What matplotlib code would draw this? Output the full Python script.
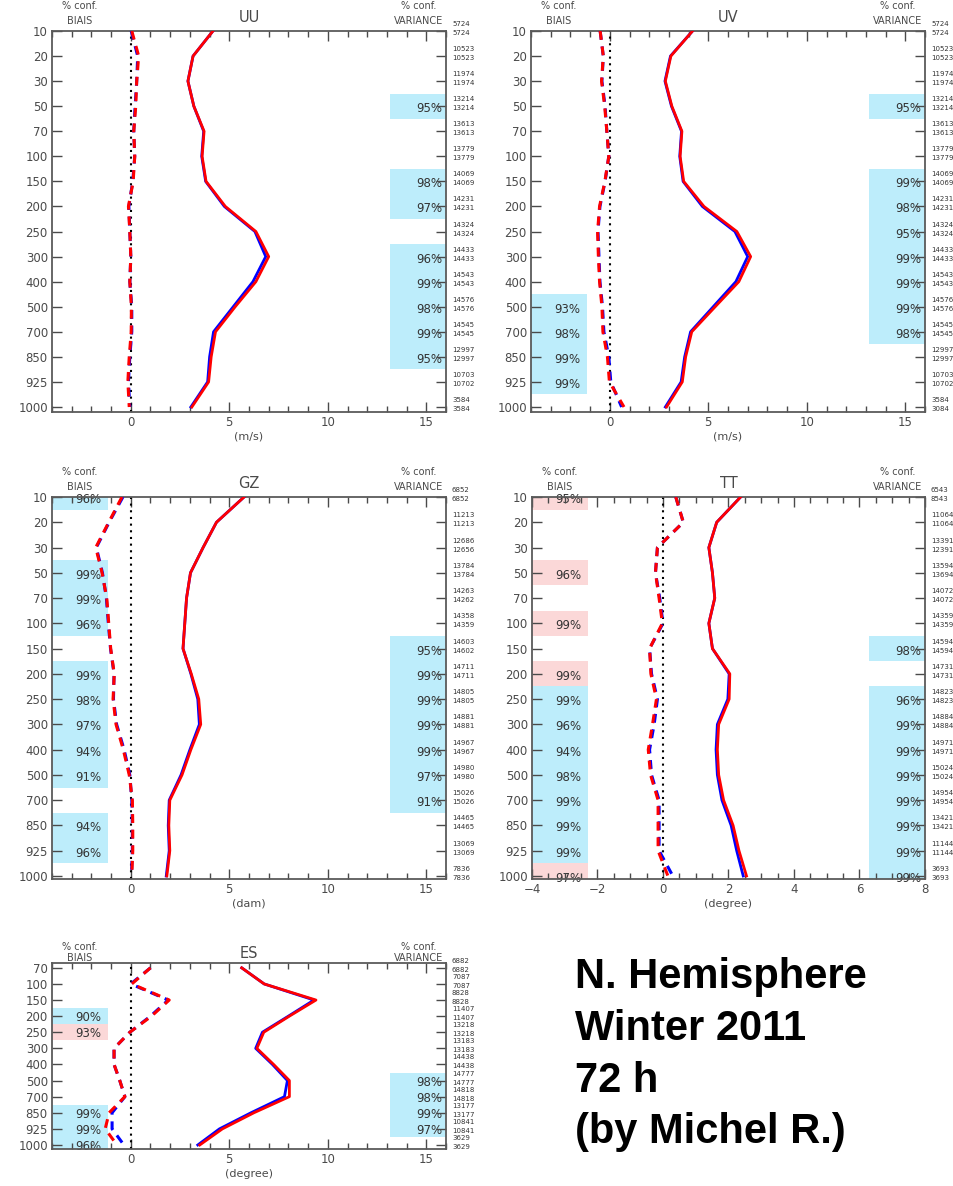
import numpy as np
import matplotlib.pyplot as plt
from matplotlib.patches import Rectangle
from matplotlib.transforms import blended_transform_factory
import matplotlib.ticker as mticker

# ─────────────────────────────────────────────
# Données
# ─────────────────────────────────────────────
NIVEAUX = [10, 20, 30, 50, 70, 100, 150, 200, 250, 300, 400, 500, 700, 850, 925, 1000]
NIVEAUX_ES = [70, 100, 150, 200, 250, 300, 400, 500, 700, 850, 925, 1000]

# UU (m/s)
UU_RMS_BLEU = [4.17, 3.16, 2.90, 3.20, 3.70, 3.60, 3.80, 4.75, 6.30, 6.85, 6.20, 5.20, 4.20, 4.00, 3.90, 3.05]
UU_RMS_ROUGE = [4.17, 3.16, 2.90, 3.20, 3.72, 3.62, 3.82, 4.80, 6.35, 7.00, 6.35, 5.30, 4.30, 4.08, 3.95, 3.10]
UU_BIAIS_BLEU = [0.02, 0.35, 0.30, 0.22, 0.15, 0.20, 0.10, -0.10, -0.05, 0.00, -0.05, 0.05, 0.05, -0.05, -0.12, -0.05]
UU_BIAIS_ROUGE = [0.05, 0.40, 0.30, 0.25, 0.15, 0.20, 0.12, -0.12, -0.05, 0.00, -0.05, 0.03, 0.02, -0.08, -0.15, -0.08]
UU_CONF_BIAIS = []
UU_CONF_VAR = [(50, 95, "b"), (150, 98, "b"), (200, 97, "b"), (300, 96, "b"), (400, 99, "b"),
               (500, 98, "b"), (700, 99, "b"), (850, 95, "b")]
UU_NOBS = [(5724, 5724), (10523, 10523), (11974, 11974), (13214, 13214), (13613, 13613),
           (13779, 13779), (14069, 14069), (14231, 14231), (14324, 14324), (14433, 14433),
           (14543, 14543), (14576, 14576), (14545, 14545), (12997, 12997), (10703, 10702), (3584, 3584)]

# UV (m/s)
UV_RMS_BLEU = [4.20, 3.08, 2.80, 3.13, 3.64, 3.55, 3.72, 4.70, 6.35, 7.00, 6.40, 5.25, 4.10, 3.80, 3.62, 2.82]
UV_RMS_ROUGE = [4.20, 3.10, 2.82, 3.15, 3.66, 3.57, 3.75, 4.78, 6.45, 7.15, 6.55, 5.35, 4.16, 3.85, 3.68, 2.88]
UV_BIAIS_BLEU = [-0.49, -0.33, -0.40, -0.24, -0.15, -0.05, -0.24, -0.50, -0.60, -0.55, -0.50, -0.37, -0.30, -0.05, 0.05, 0.60]
UV_BIAIS_ROUGE = [-0.49, -0.33, -0.42, -0.26, -0.15, -0.05, -0.25, -0.52, -0.62, -0.58, -0.52, -0.40, -0.35, -0.12, -0.02, 0.72]
UV_CONF_BIAIS = [(500, 93, "b"), (700, 98, "b"), (850, 99, "b"), (925, 99, "b")]
UV_CONF_VAR = [(50, 95, "b"), (150, 99, "b"), (200, 98, "b"), (250, 95, "b"), (300, 99, "b"),
               (400, 99, "b"), (500, 99, "b"), (700, 98, "b")]
UV_NOBS = [(5724, 5724), (10523, 10523), (11974, 11974), (13214, 13214), (13613, 13613),
           (13779, 13779), (14069, 14069), (14231, 14231), (14324, 14324), (14433, 14433),
           (14543, 14543), (14576, 14576), (14545, 14545), (12997, 12997), (10703, 10702), (3584, 3084)]

# GZ (dam)
GZ_RMS_BLEU = [5.75, 4.35, 3.67, 3.03, 2.83, 2.74, 2.65, 3.05, 3.40, 3.48, 3.00, 2.55, 1.95, 1.90, 1.95, 1.80]
GZ_RMS_ROUGE = [5.75, 4.35, 3.67, 3.03, 2.83, 2.74, 2.65, 3.07, 3.45, 3.55, 3.05, 2.60, 1.98, 1.93, 1.98, 1.83]
GZ_BIAIS_BLEU = [-0.40, -1.10, -1.75, -1.44, -1.24, -1.14, -1.03, -0.85, -0.88, -0.72, -0.34, -0.05, 0.05, 0.08, 0.08, 0.03]
GZ_BIAIS_ROUGE = [-0.45, -1.12, -1.78, -1.46, -1.22, -1.12, -1.02, -0.84, -0.90, -0.75, -0.38, -0.08, 0.08, 0.10, 0.10, 0.05]
GZ_CONF_BIAIS = [(10, 96, "b"), (50, 99, "b"), (70, 99, "b"), (100, 96, "b"), (200, 99, "b"),
                 (250, 98, "b"), (300, 97, "b"), (400, 94, "b"), (500, 91, "b"), (850, 94, "b"), (925, 96, "b")]
GZ_CONF_VAR = [(150, 95, "b"), (200, 99, "b"), (250, 99, "b"), (300, 99, "b"), (400, 99, "b"),
               (500, 97, "b"), (700, 91, "b")]
GZ_NOBS = [(6852, 6852), (11213, 11213), (12686, 12656), (13784, 13784), (14263, 14262),
           (14358, 14359), (14603, 14602), (14711, 14711), (14805, 14805), (14881, 14881),
           (14967, 14967), (14980, 14980), (15026, 15026), (14465, 14465), (13069, 13069), (7836, 7836)]

# TT (degree)
TT_RMS_BLEU = [2.37, 1.64, 1.40, 1.51, 1.58, 1.40, 1.51, 2.02, 1.98, 1.66, 1.62, 1.66, 1.80, 2.08, 2.25, 2.45]
TT_RMS_ROUGE = [2.37, 1.64, 1.40, 1.51, 1.58, 1.40, 1.51, 2.04, 2.02, 1.70, 1.66, 1.70, 1.85, 2.14, 2.32, 2.55]
TT_BIAIS_BLEU = [0.39, 0.62, -0.17, -0.23, -0.10, 0.00, -0.41, -0.35, -0.17, -0.27, -0.41, -0.35, -0.12, -0.12, -0.12, 0.30]
TT_BIAIS_ROUGE = [0.39, 0.62, -0.17, -0.23, -0.12, -0.02, -0.41, -0.37, -0.20, -0.32, -0.45, -0.38, -0.15, -0.15, -0.15, 0.15]
TT_CONF_BIAIS = [(10, 95, "r"), (50, 96, "r"), (100, 99, "r"), (200, 99, "r"), (250, 99, "b"),
                 (300, 96, "b"), (400, 94, "b"), (500, 98, "b"), (700, 99, "b"), (850, 99, "b"),
                 (925, 99, "b"), (1000, 97, "r")]
TT_CONF_VAR = [(150, 98, "b"), (250, 96, "b"), (300, 99, "b"), (400, 99, "b"), (500, 99, "b"),
               (700, 99, "b"), (850, 99, "b"), (925, 99, "b"), (1000, 99, "b")]
TT_NOBS = [(6543, 8543), (11064, 11064), (13391, 12391), (13594, 13694), (14072, 14072),
           (14359, 14359), (14594, 14594), (14731, 14731), (14823, 14823), (14884, 14884),
           (14971, 14971), (15024, 15024), (14954, 14954), (13421, 13421), (11144, 11144), (3693, 3693)]

# ES (degree)
ES_RMS_BLEU = [5.63, 6.77, 9.30, 8.00, 6.68, 6.34, 7.19, 7.95, 7.80, 6.10, 4.50, 3.40]
ES_RMS_ROUGE = [5.63, 6.77, 9.40, 8.05, 6.75, 6.40, 7.25, 8.05, 8.05, 6.25, 4.65, 3.50]
ES_BIAIS_BLEU = [1.00, 0.00, 1.90, 1.00, -0.05, -0.85, -0.85, -0.56, -0.30, -0.95, -0.95, -0.35]
ES_BIAIS_ROUGE = [1.00, 0.05, 1.95, 1.05, -0.05, -0.85, -0.85, -0.56, -0.30, -1.10, -1.30, -0.70]
ES_CONF_BIAIS = [(200, 90, "b"), (250, 93, "r"), (850, 99, "b"), (925, 99, "b"), (1000, 96, "b")]
ES_CONF_VAR = [(500, 98, "b"), (700, 98, "b"), (850, 99, "b"), (925, 97, "b")]
ES_NOBS = [(6882, 6882), (7087, 7087), (8828, 8828), (11407, 11407), (13218, 13218),
           (13183, 13183), (14438, 14438), (14777, 14777), (14818, 14818), (13177, 13177),
           (10841, 10841), (3629, 3629)]

# ─────────────────────────────────────────────
# Style
# ─────────────────────────────────────────────
BLEU_CONF = "#bdedfb"
ROSE_CONF = "#fbd8d8"
GRIS = "#4a4a4a"
COUL_BOITE = {"b": BLEU_CONF, "r": ROSE_CONF}

plt.rcParams.update({
    "font.family": "DejaVu Sans",
    "text.color": GRIS,
    "axes.edgecolor": "#5a5a5a",
    "axes.linewidth": 1.3,
    "xtick.color": GRIS,
    "ytick.color": GRIS,
    "xtick.labelcolor": GRIS,
    "ytick.labelcolor": GRIS,
})

W, H = 954, 1186
fig = plt.figure(figsize=(W / 100, H / 100), dpi=100)


def axes_px(gauche, haut, droite, bas):
    return fig.add_axes([gauche / W, 1 - bas / H, (droite - gauche) / W, (bas - haut) / H])


def panneau(ax, niveaux, rms_b, rms_r, biais_b, biais_r, xlim, xmaj, xmin, ylim,
            titre, unite, conf_biais, conf_var, nobs, compact=False):
    y = np.arange(len(niveaux))
    tr = blended_transform_factory(ax.transAxes, ax.transData)

    # boîtes de confiance
    for niv, pct, c in conf_biais:
        i = niveaux.index(niv)
        ax.add_patch(Rectangle((0, i - 0.5), 0.142, 1.0, transform=tr,
                               facecolor=COUL_BOITE[c], lw=0, zorder=0))
        ax.text(0.093, i + 0.1, f"{pct}%", transform=tr, ha="center", va="center",
                fontsize=8.5, color="#333333", zorder=1)
    for niv, pct, c in conf_var:
        i = niveaux.index(niv)
        ax.add_patch(Rectangle((0.858, i - 0.5), 0.142, 1.0, transform=tr,
                               facecolor=COUL_BOITE[c], lw=0, zorder=0))
        ax.text(0.99, i + 0.1, f"{pct}%", transform=tr, ha="right", va="center",
                fontsize=8.5, color="#333333", zorder=1)

    ax.axvline(0, color="black", lw=1.5, ls=(0, (1, 2.2)), zorder=2)
    ax.plot(rms_b, y, color="#0000ff", lw=2.0, zorder=3)
    ax.plot(rms_r, y, color="#ff0000", lw=2.0, zorder=4)
    ax.plot(biais_b, y, color="#0000ff", lw=2.2, ls=(0, (2.9, 2.2)), zorder=3)
    ax.plot(biais_r, y, color="#ff0000", lw=2.2, ls=(0, (2.9, 2.2)), zorder=4)

    ax.set_xlim(*xlim)
    ax.set_ylim(*ylim)
    ax.set_yticks(y)
    ax.set_yticklabels([str(n) for n in niveaux])
    ax.xaxis.set_major_locator(mticker.MultipleLocator(xmaj))
    ax.xaxis.set_minor_locator(mticker.MultipleLocator(xmin))
    ax.xaxis.set_major_formatter(mticker.FuncFormatter(
        lambda v, p: f"{v:g}".replace("-", "\u2212")))
    ax.tick_params(axis="both", which="major", direction="in", top=True, right=True,
                   length=7, width=1.0, labelsize=8.5, pad=3)
    ax.tick_params(axis="x", which="minor", direction="in", top=True, length=4, width=1.0)
    ax.set_xlabel(unite, fontsize=8, color=GRIS, labelpad=2)

    # en-têtes
    d1, d2, dt = (16, 5, 10) if compact else (25, 10, 14)
    ax.annotate(titre, xy=(0.5, 1), xycoords="axes fraction", xytext=(0, dt),
                textcoords="offset pixels", ha="center", va="center", fontsize=10.5)
    for xf, bas in ((0.071, "BIAIS"), (0.93, "VARIANCE")):
        ax.annotate("% conf.", xy=(xf, 1), xycoords="axes fraction", xytext=(0, d1),
                    textcoords="offset pixels", ha="center", va="center", fontsize=7)
        ax.annotate(bas, xy=(xf, 1), xycoords="axes fraction", xytext=(0, d2),
                    textcoords="offset pixels", ha="center", va="center", fontsize=7)

    # nombre d'observations
    for i, (n1, n2) in enumerate(nobs):
        ax.annotate(str(n1), xy=(1, i), xycoords=tr, xytext=(6, 7), textcoords="offset pixels",
                    ha="left", va="center", fontsize=5, color="#333333", annotation_clip=False)
        ax.annotate(str(n2), xy=(1, i), xycoords=tr, xytext=(6, -2), textcoords="offset pixels",
                    ha="left", va="center", fontsize=5, color="#333333", annotation_clip=False)


ax_uu = axes_px(52, 31, 446, 412)
panneau(ax_uu, NIVEAUX, UU_RMS_BLEU, UU_RMS_ROUGE, UU_BIAIS_BLEU, UU_BIAIS_ROUGE,
        (-4, 16), 5, 1, (15.2, 0), "UU", "(m/s)", UU_CONF_BIAIS, UU_CONF_VAR, UU_NOBS)

ax_uv = axes_px(531, 31, 925, 412)
panneau(ax_uv, NIVEAUX, UV_RMS_BLEU, UV_RMS_ROUGE, UV_BIAIS_BLEU, UV_BIAIS_ROUGE,
        (-4, 16), 5, 1, (15.2, 0), "UV", "(m/s)", UV_CONF_BIAIS, UV_CONF_VAR, UV_NOBS)

ax_gz = axes_px(52, 497, 446, 879)
panneau(ax_gz, NIVEAUX, GZ_RMS_BLEU, GZ_RMS_ROUGE, GZ_BIAIS_BLEU, GZ_BIAIS_ROUGE,
        (-4, 16), 5, 1, (15.12, 0), "GZ", "(dam)", GZ_CONF_BIAIS, GZ_CONF_VAR, GZ_NOBS)

ax_tt = axes_px(532, 497, 925, 879)
panneau(ax_tt, NIVEAUX, TT_RMS_BLEU, TT_RMS_ROUGE, TT_BIAIS_BLEU, TT_BIAIS_ROUGE,
        (-4, 8), 2, 0.5, (15.12, 0), "TT", "(degree)", TT_CONF_BIAIS, TT_CONF_VAR, TT_NOBS)

ax_es = axes_px(52, 963, 446, 1149)
panneau(ax_es, NIVEAUX_ES, ES_RMS_BLEU, ES_RMS_ROUGE, ES_BIAIS_BLEU, ES_BIAIS_ROUGE,
        (-4, 16), 5, 1, (11.25, -0.3), "ES", "(degree)", ES_CONF_BIAIS, ES_CONF_VAR, ES_NOBS,
        compact=True)

fig.text(575 / W, 1 - 957 / H, "N. Hemisphere\nWinter 2011\n72 h\n(by Michel R.)",
         ha="left", va="top", fontsize=30, fontweight="bold", color="black",
         family="Liberation Sans", linespacing=1.38)

fig.savefig("out.png", dpi=100, facecolor="white")
